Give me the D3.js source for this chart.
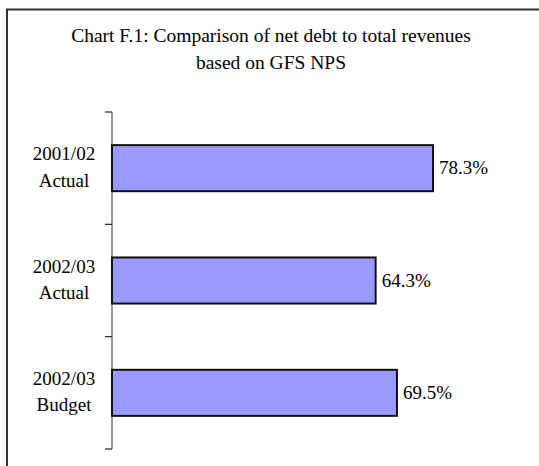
<!DOCTYPE html>
<html>
<head>
<meta charset="utf-8">
<script src="https://cdn.jsdelivr.net/npm/d3@7"></script>
<style>
  html, body { margin: 0; padding: 0; background: #fff; }
  svg { display: block; }
</style>
</head>
<body>
<svg id="chart" width="539" height="466"></svg>
<script>
// Net debt to total revenues, GFS NPS basis
const categories = [["2001/02", "Actual"], ["2002/03", "Actual"], ["2002/03", "Budget"]];
const values = [78.3, 64.3, 69.5];
const valueLabels = ["78.3%", "64.3%", "69.5%"];
const titleLines = ["Chart F.1: Comparison of net debt to total revenues", "based on GFS NPS"];

const FONT = "'Liberation Serif', 'Times New Roman', Times, 'DejaVu Serif', serif";
const svg = d3.select("#chart").attr("font-family", FONT);
const W = 539, H = 466;

// outer frame (runs off the right and bottom edges)
svg.append("rect")
  .attr("x", 7).attr("y", 9.5)
  .attr("width", W + 20).attr("height", H + 20)
  .attr("fill", "#fff")
  .attr("stroke", "#333").attr("stroke-width", 2);

// title
svg.append("g").selectAll("text")
  .data(titleLines)
  .join("text")
  .attr("font-family", FONT)
  .attr("x", 271)
  .attr("y", (d, i) => 42 + i * 26.5)
  .attr("text-anchor", "middle")
  .attr("font-size", 19.5)
  .text(d => d);

const ids = categories.map((c, i) => i);
const y = d3.scaleBand()
  .domain(ids)
  .range([112, 449])
  .paddingInner(0.59)
  .paddingOuter(0.295);

const x = d3.scaleLinear().domain([0, 100]).range([112, 522]);

// category axis: line with ticks at band boundaries
const axisG = svg.append("g");
axisG.append("line")
  .attr("x1", x(0)).attr("x2", x(0))
  .attr("y1", y.range()[0]).attr("y2", y.range()[1])
  .attr("stroke", "#777").attr("stroke-width", 1.5);
const step = y.step();
const boundaries = d3.range(categories.length + 1).map(i => y.range()[0] + i * step);
axisG.selectAll("line.tick")
  .data(boundaries)
  .join("line")
  .attr("class", "tick")
  .attr("x1", x(0) - 7).attr("x2", x(0))
  .attr("y1", d => d).attr("y2", d => d)
  .attr("stroke", "#222").attr("stroke-width", 1.2);

// category labels
const labG = svg.append("g").selectAll("text")
  .data(categories)
  .join("text")
  .attr("font-family", FONT)
  .attr("x", 64)
  .attr("text-anchor", "middle")
  .attr("font-size", 19);
labG.append("tspan")
  .attr("x", 64)
  .attr("y", (d, i) => y(i) + y.bandwidth() / 2 - 8)
  .text(d => d[0]);
labG.append("tspan")
  .attr("x", 64)
  .attr("y", (d, i) => y(i) + y.bandwidth() / 2 + 18.5)
  .text(d => d[1]);

// bars
svg.append("g").selectAll("rect")
  .data(values)
  .join("rect")
  .attr("x", x(0))
  .attr("y", (d, i) => y(i))
  .attr("width", d => x(d) - x(0))
  .attr("height", y.bandwidth())
  .attr("fill", "#9999ff")
  .attr("stroke", "#111")
  .attr("stroke-width", 2);

// value labels
svg.append("g").selectAll("text")
  .data(values)
  .join("text")
  .attr("font-family", FONT)
  .attr("x", d => x(d) + 6)
  .attr("y", (d, i) => y(i) + y.bandwidth() / 2 + 6)
  .attr("font-size", 19)
  .text((d, i) => valueLabels[i]);
</script>
</body>
</html>
